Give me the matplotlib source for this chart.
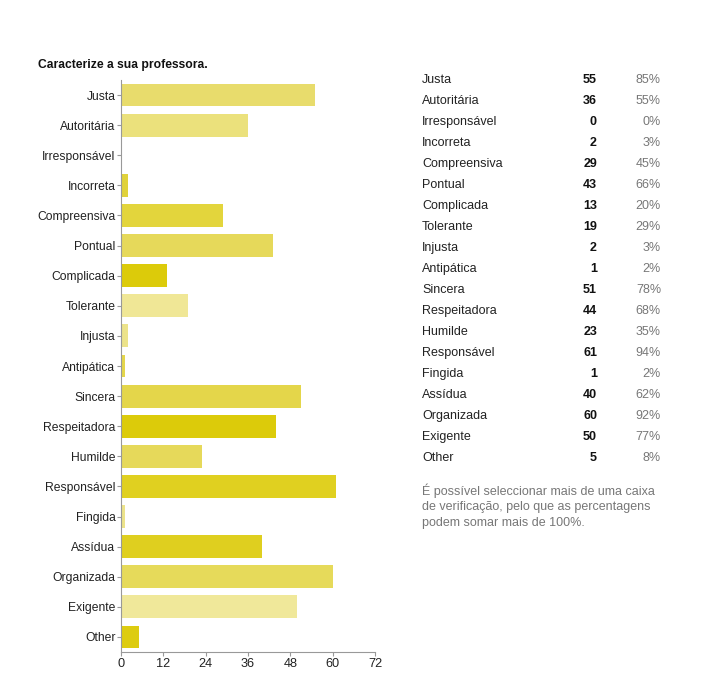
import matplotlib.pyplot as plt

plt.rcParams['font.family'] = ['Liberation Sans', 'DejaVu Sans']

categories = ['Justa', 'Autoritária', 'Irresponsável', 'Incorreta', 'Compreensiva',
              'Pontual', 'Complicada', 'Tolerante', 'Injusta', 'Antipática', 'Sincera',
              'Respeitadora', 'Humilde', 'Responsável', 'Fingida', 'Assídua',
              'Organizada', 'Exigente', 'Other']
counts = [55, 36, 0, 2, 29, 43, 13, 19, 2, 1, 51, 44, 23, 61, 1, 40, 60, 50, 5]
percents = ['85%', '55%', '0%', '3%', '45%', '66%', '20%', '29%', '3%', '2%', '78%',
            '68%', '35%', '94%', '2%', '62%', '92%', '77%', '8%']
bar_colors = ['#e8dc6c', '#ebe17c', '#e8dc6c', '#e0d23a', '#e3d53c', '#e6d95a',
              '#dccb0a', '#f0e796', '#ece38a', '#e4d64a', '#e4d64a', '#dccb0a',
              '#e6d95a', '#e0d020', '#ece38a', '#dfcf1f', '#e6da5a', '#f0e89a',
              '#ddcc10']
xticks = [0, 12, 24, 36, 48, 60, 72]

W, H = 713, 679
fig = plt.figure(figsize=(W / 100, H / 100), dpi=100)
ax = fig.add_axes([121 / W, 1 - 652 / H, (375 - 121) / W, (652 - 80) / H])

ypos = list(range(len(categories)))
ax.barh(ypos, counts, height=0.76, color=bar_colors)
ax.set_ylim(len(categories) - 0.5, -0.5)
ax.set_xlim(0, 72)
ax.set_yticks(ypos)
ax.set_yticklabels(categories, fontsize=8.7, color='#222222')
ax.set_xticks(xticks)
ax.set_xticklabels([str(t) for t in xticks], fontsize=9.2, color='#222222')
for s in ['top', 'right']:
    ax.spines[s].set_visible(False)
for s in ['left', 'bottom']:
    ax.spines[s].set_color('#999999')
ax.tick_params(axis='both', colors='#999999', length=3, width=0.8, pad=1,
               labelcolor='#222222')

fig.text(38 / W, 1 - 65 / H, 'Caracterize a sua professora.', fontsize=8.7,
         fontweight='bold', va='center', ha='left', color='#111111')

# tabela à direita
for i, (name, c, p) in enumerate(zip(categories, counts, percents)):
    y = 1 - (80 + 21 * i) / H
    fig.text(422 / W, y, name, fontsize=9, va='center', ha='left', color='#222222')
    fig.text(597 / W, y, str(c), fontsize=9, va='center', ha='right',
             fontweight='bold', color='#111111')
    fig.text(661 / W, y, p, fontsize=9, va='center', ha='right', color='#777777')

note = ['É possível seleccionar mais de uma caixa',
        'de verificação, pelo que as percentagens',
        'podem somar mais de 100%.']
for j, line in enumerate(note):
    fig.text(422 / W, 1 - (491 + 16 * j) / H, line, fontsize=9, va='center',
             ha='left', color='#777777')

fig.savefig('out.png', dpi=100, facecolor='white')
